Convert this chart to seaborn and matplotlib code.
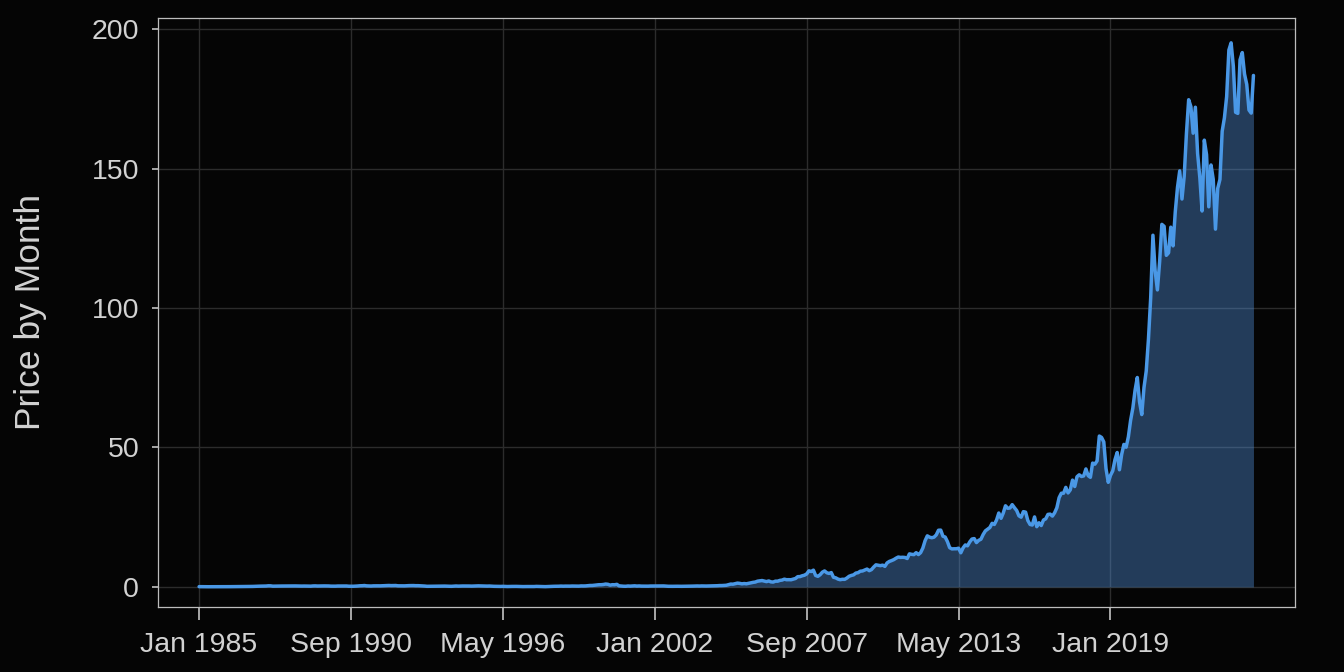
import numpy as np
import pandas as pd
import matplotlib
matplotlib.use("Agg")
import matplotlib.pyplot as plt
import seaborn as sns

# Monthly (month-end, adjusted) prices, Jan 1985 .. May 2024
p1985 = [0.100, 0.085, 0.075, 0.072, 0.066, 0.065, 0.058, 0.055, 0.058, 0.065, 0.072, 0.075]
p1986 = [0.080, 0.086, 0.095, 0.100, 0.095, 0.110, 0.110, 0.120, 0.120, 0.130, 0.140, 0.130]
p1987 = [0.18, 0.22, 0.27, 0.27, 0.28, 0.31, 0.32, 0.40, 0.39, 0.27, 0.29, 0.32]
p1988 = [0.31, 0.32, 0.33, 0.32, 0.34, 0.36, 0.34, 0.35, 0.33, 0.30, 0.30, 0.32]
p1989 = [0.29, 0.29, 0.27, 0.35, 0.37, 0.32, 0.34, 0.36, 0.36, 0.36, 0.34, 0.28]
p1990 = [0.27, 0.27, 0.32, 0.32, 0.32, 0.33, 0.33, 0.25, 0.23, 0.24, 0.28, 0.33]
p1991 = [0.41, 0.43, 0.50, 0.38, 0.36, 0.32, 0.38, 0.40, 0.39, 0.38, 0.41, 0.41]
p1992 = [0.47, 0.52, 0.47, 0.49, 0.51, 0.40, 0.39, 0.37, 0.38, 0.43, 0.47, 0.48]
p1993 = [0.49, 0.44, 0.45, 0.41, 0.40, 0.31, 0.22, 0.23, 0.21, 0.25, 0.25, 0.24]
p1994 = [0.28, 0.31, 0.30, 0.26, 0.24, 0.22, 0.27, 0.33, 0.28, 0.31, 0.33, 0.33]
p1995 = [0.33, 0.32, 0.29, 0.32, 0.35, 0.38, 0.36, 0.35, 0.32, 0.29, 0.32, 0.26]
p1996 = [0.22, 0.20, 0.20, 0.18, 0.21, 0.17, 0.14, 0.17, 0.18, 0.19, 0.19, 0.16]
p1997 = [0.13, 0.12, 0.14, 0.14, 0.13, 0.11, 0.14, 0.19, 0.17, 0.14, 0.14, 0.10]
p1998 = [0.14, 0.18, 0.22, 0.23, 0.23, 0.25, 0.30, 0.26, 0.29, 0.28, 0.28, 0.32]
p1999 = [0.31, 0.28, 0.28, 0.36, 0.34, 0.36, 0.44, 0.52, 0.52, 0.62, 0.72, 0.79]
p2000 = [0.79, 0.87, 1.03, 0.94, 0.64, 0.80, 0.77, 0.92, 0.39, 0.30, 0.25, 0.23]
p2001 = [0.33, 0.28, 0.34, 0.39, 0.30, 0.35, 0.29, 0.28, 0.24, 0.27, 0.32, 0.33]
p2002 = [0.37, 0.33, 0.36, 0.37, 0.35, 0.27, 0.23, 0.22, 0.22, 0.24, 0.24, 0.22]
p2003 = [0.22, 0.23, 0.22, 0.22, 0.27, 0.29, 0.32, 0.34, 0.31, 0.35, 0.32, 0.32]
p2004 = [0.34, 0.36, 0.41, 0.39, 0.43, 0.49, 0.49, 0.53, 0.59, 0.80, 1.02, 0.98]
p2005 = [1.17, 1.36, 1.27, 1.10, 1.21, 1.12, 1.29, 1.42, 1.63, 1.75, 2.06, 2.18]
p2006 = [2.29, 2.08, 1.90, 2.14, 1.81, 1.74, 2.06, 2.06, 2.34, 2.46, 2.78, 2.58]
p2007 = [2.60, 2.57, 2.82, 3.03, 3.68, 3.70, 4.00, 4.20, 4.66, 5.77, 5.53, 6.01]
p2008 = [4.11, 3.80, 4.36, 5.28, 5.73, 5.08, 4.83, 5.14, 3.45, 3.26, 2.81, 2.59]
p2009 = [2.74, 2.71, 3.19, 3.82, 4.12, 4.33, 4.96, 5.11, 5.63, 5.72, 6.07, 6.40]
p2010 = [5.83, 6.21, 7.13, 7.92, 7.79, 7.63, 7.81, 7.38, 8.61, 9.14, 9.44, 9.79]
p2011 = [10.30, 10.72, 10.58, 10.63, 10.56, 10.19, 11.86, 11.68, 11.58, 12.29, 11.60, 12.29]
p2012 = [13.94, 16.56, 18.31, 17.84, 17.64, 17.84, 18.65, 20.32, 20.37, 18.18, 17.87, 16.25]
p2013 = [14.07, 13.63, 13.68, 13.68, 13.89, 12.25, 13.98, 15.05, 14.73, 16.15, 17.18, 17.33]
p2014 = [15.9, 16.7, 17.1, 18.8, 20.1, 20.7, 21.3, 22.8, 22.4, 24.0, 26.5, 24.6]
p2015 = [26.5, 29.1, 28.2, 28.3, 29.5, 28.4, 27.4, 25.5, 25.0, 27.0, 26.8, 23.8]
p2016 = [22.4, 22.2, 25.1, 21.6, 23.0, 22.0, 24.0, 24.4, 26.0, 26.1, 25.4, 26.6]
p2017 = [28.4, 32.0, 33.6, 33.6, 35.7, 33.7, 34.8, 38.3, 36.0, 39.5, 40.2, 39.6]
p2018 = [39.8, 42.3, 39.9, 39.3, 44.4, 44.0, 45.2, 54.1, 53.6, 52.0, 42.4, 37.5]
p2019 = [40.0, 41.6, 45.6, 48.2, 42.0, 47.5, 51.1, 50.1, 53.8, 59.7, 64.1, 70.5]
p2020 = [75.1, 66.4, 61.8, 71.5, 77.4, 88.9, 103.7, 126.1, 113.3, 106.5, 116.6, 130.0]
p2021 = [129.3, 118.9, 119.8, 129.0, 122.3, 134.5, 143.3, 149.2, 139.1, 147.3, 162.6, 174.7]
p2022 = [172.2, 162.7, 172.0, 155.4, 146.7, 134.8, 160.2, 155.0, 136.3, 151.3, 146.1, 128.3]
p2023 = [142.9, 146.1, 163.4, 168.2, 175.8, 192.5, 195.1, 186.7, 170.2, 169.8, 189.0, 191.6]
p2024 = [183.9, 180.2, 171.0, 169.9, 183.4]

years = [p1985, p1986, p1987, p1988, p1989, p1990, p1991, p1992, p1993, p1994,
         p1995, p1996, p1997, p1998, p1999, p2000, p2001, p2002, p2003, p2004,
         p2005, p2006, p2007, p2008, p2009, p2010, p2011, p2012, p2013, p2014,
         p2015, p2016, p2017, p2018, p2019, p2020, p2021, p2022, p2023, p2024]
prices = [v for yr in years for v in yr]

tick_labels = ["Jan 1985", "Sep 1990", "May 1996", "Jan 2002",
               "Sep 2007", "May 2013", "Jan 2019"]
tick_step = 68  # months between labelled ticks
y_ticks = [0, 50, 100, 150, 200]

df = pd.DataFrame({"month": np.arange(len(prices)), "price": prices})

BG = "#050505"
LINE = "#4a98e6"
TEXT = "#d2d2d2"

sns.set_theme(style="dark")
plt.rcParams["font.family"] = ["Liberation Sans", "DejaVu Sans"]

fig = plt.figure(figsize=(13.44, 6.72), dpi=100, facecolor=BG)
ax = fig.add_axes([158 / 1344, 1 - 607 / 672, (1295 - 158) / 1344, (607 - 18) / 672])
ax.set_facecolor(BG)

ax.fill_between(df["month"], df["price"], 0, color="#5291dc", alpha=0.4, lw=0, zorder=2)
sns.lineplot(data=df, x="month", y="price", ax=ax, color=LINE, lw=2.5, zorder=3)

ax.set_xlim(-18.4, len(prices) - 1 + 18.6)
ax.set_ylim(-7.2, 204)
ax.set_xticks([i * tick_step for i in range(len(tick_labels))])
ax.set_xticklabels(tick_labels)
ax.set_yticks(y_ticks)
ax.set_yticklabels([str(v) for v in y_ticks])

ax.grid(True, color="#2c2c2c", lw=1.0, zorder=0)
ax.set_axisbelow(True)
for s in ax.spines.values():
    s.set_visible(True)
    s.set_color("#bdbdbd")
    s.set_linewidth(0.9)

ax.tick_params(axis="x", colors="#b5b5b5", labelcolor=TEXT, labelsize=20.5,
               length=9, width=1.3, pad=9, direction="out", bottom=True)
ax.tick_params(axis="y", colors="#b5b5b5", labelcolor=TEXT, labelsize=20.5,
               length=4.5, width=1.3, pad=9, direction="out", left=True)

ax.set_xlabel("")
ax.set_ylabel("Price by Month", color=TEXT, fontsize=25.5)
ax.yaxis.set_label_coords(-0.098, 0.5)

fig.savefig("out.png", dpi=100, facecolor=BG)
